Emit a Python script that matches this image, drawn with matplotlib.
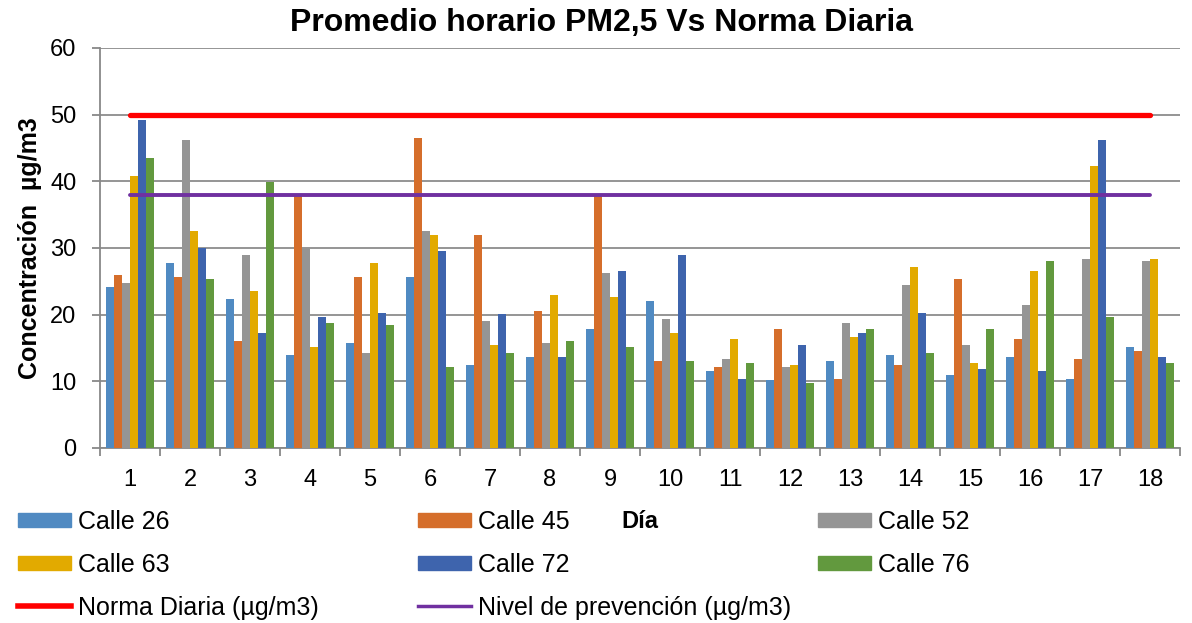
import numpy as np
import matplotlib
matplotlib.use("Agg")
import matplotlib.pyplot as plt
from matplotlib.patches import Patch
from matplotlib.lines import Line2D

plt.rcParams['font.family'] = ['Liberation Sans', 'DejaVu Sans']

# Daily hourly averages of PM2.5 per monitoring street (µg/m3)
dias = list(range(1, 19))
calle_26 = [24.2, 27.8, 22.4, 13.9, 15.7, 25.7, 12.4, 13.6, 17.8, 22.1, 11.5, 10.2, 13.0, 13.9, 10.9, 13.6, 10.3, 15.1]
calle_45 = [26.0, 25.7, 16.0, 37.9, 25.7, 46.5, 32.0, 20.6, 37.9, 13.0, 12.1, 17.8, 10.3, 12.4, 25.4, 16.3, 13.3, 14.5]
calle_52 = [24.8, 46.2, 29.0, 30.0, 14.2, 32.6, 19.1, 15.7, 26.3, 19.4, 13.3, 12.1, 18.7, 24.5, 15.4, 21.5, 28.4, 28.1]
calle_63 = [40.8, 32.6, 23.6, 15.1, 27.8, 32.0, 15.4, 23.0, 22.7, 17.2, 16.3, 12.4, 16.6, 27.2, 12.7, 26.6, 42.3, 28.4]
calle_72 = [49.2, 30.0, 17.2, 19.6, 20.2, 29.6, 20.1, 13.6, 26.6, 29.0, 10.3, 15.4, 17.2, 20.2, 11.8, 11.5, 46.2, 13.6]
calle_76 = [43.5, 25.4, 39.9, 18.7, 18.4, 12.1, 14.2, 16.0, 15.1, 13.0, 12.7, 9.7, 17.8, 14.2, 17.8, 28.1, 19.6, 12.7]

norma_diaria = 50
nivel_prevencion = 38

series = [calle_26, calle_45, calle_52, calle_63, calle_72, calle_76]
nombres = ['Calle 26', 'Calle 45', 'Calle 52', 'Calle 63', 'Calle 72', 'Calle 76']
colores = ['#508AC2', '#D56E2B', '#959595', '#E2AA00', '#3E64AD', '#62993E']

fig = plt.figure(figsize=(11.92, 6.23), dpi=100)
ax = fig.add_axes([100 / 1192, 175 / 623, 1080 / 1192, 400 / 623])

x = np.array(dias, dtype=float)
n = len(series)
ancho = 0.8 / n
for i, (vals, col) in enumerate(zip(series, colores)):
    ax.bar(x - 0.4 + ancho * (i + 0.5), vals, width=ancho, color=col, zorder=3)

ax.plot([dias[0], dias[-1]], [norma_diaria, norma_diaria], color='#FF0000',
        lw=3.8, solid_capstyle='round', zorder=4)
ax.plot([dias[0], dias[-1]], [nivel_prevencion, nivel_prevencion], color='#7030A0',
        lw=2.8, solid_capstyle='round', zorder=4)

ax.set_xlim(0.5, 18.5)
ax.set_ylim(0, 60)
ax.set_yticks(range(0, 61, 10))
ax.set_xticks(dias)
ax.set_xticks(np.arange(0.5, 18.6, 1), minor=True)
ax.tick_params(axis='x', which='major', length=0, labelsize=17, pad=15)
ax.tick_params(axis='x', which='minor', length=6, width=1.3, color='#888888')
ax.tick_params(axis='y', length=6, width=1.3, color='#888888', labelsize=17, pad=11)
ax.grid(axis='y', color='#8C8C8C', lw=1.3, zorder=0)
for s in ['top', 'right']:
    ax.spines[s].set_visible(False)
for s in ['left', 'bottom']:
    ax.spines[s].set_color('#888888')
    ax.spines[s].set_linewidth(1.3)

ax.set_title('Promedio horario PM2,5 Vs Norma Diaria', fontsize=23, fontweight='bold',
             pad=12, x=0.464)
ax.set_ylabel('Concentración  µg/m3', fontsize=18, fontweight='bold')
ax.yaxis.set_label_coords(-0.054, 0.5)
ax.set_xlabel('Día', fontsize=17, fontweight='bold')
ax.xaxis.set_label_coords(0.5, -0.155)

# legend laid out as three fixed-width columns
columnas = [
    [Patch(color=colores[0], label=nombres[0]), Patch(color=colores[3], label=nombres[3]),
     Line2D([], [], color='#FF0000', lw=4, label='Norma Diaria (µg/m3)')],
    [Patch(color=colores[1], label=nombres[1]), Patch(color=colores[4], label=nombres[4]),
     Line2D([], [], color='#7030A0', lw=2.5, label='Nivel de prevención (µg/m3)')],
    [Patch(color=colores[2], label=nombres[2]), Patch(color=colores[5], label=nombres[5])],
]
for k, hs in enumerate(columnas):
    fig.legend(handles=hs, loc='upper left',
               bbox_to_anchor=((18 + 400 * k) / 1192, 1 - 510 / 623),
               frameon=False, fontsize=18, borderpad=0, borderaxespad=0,
               handlelength=2.1, handleheight=0.52, handletextpad=0.28,
               labelspacing=0.75)

fig.savefig('out.png', dpi=100)
